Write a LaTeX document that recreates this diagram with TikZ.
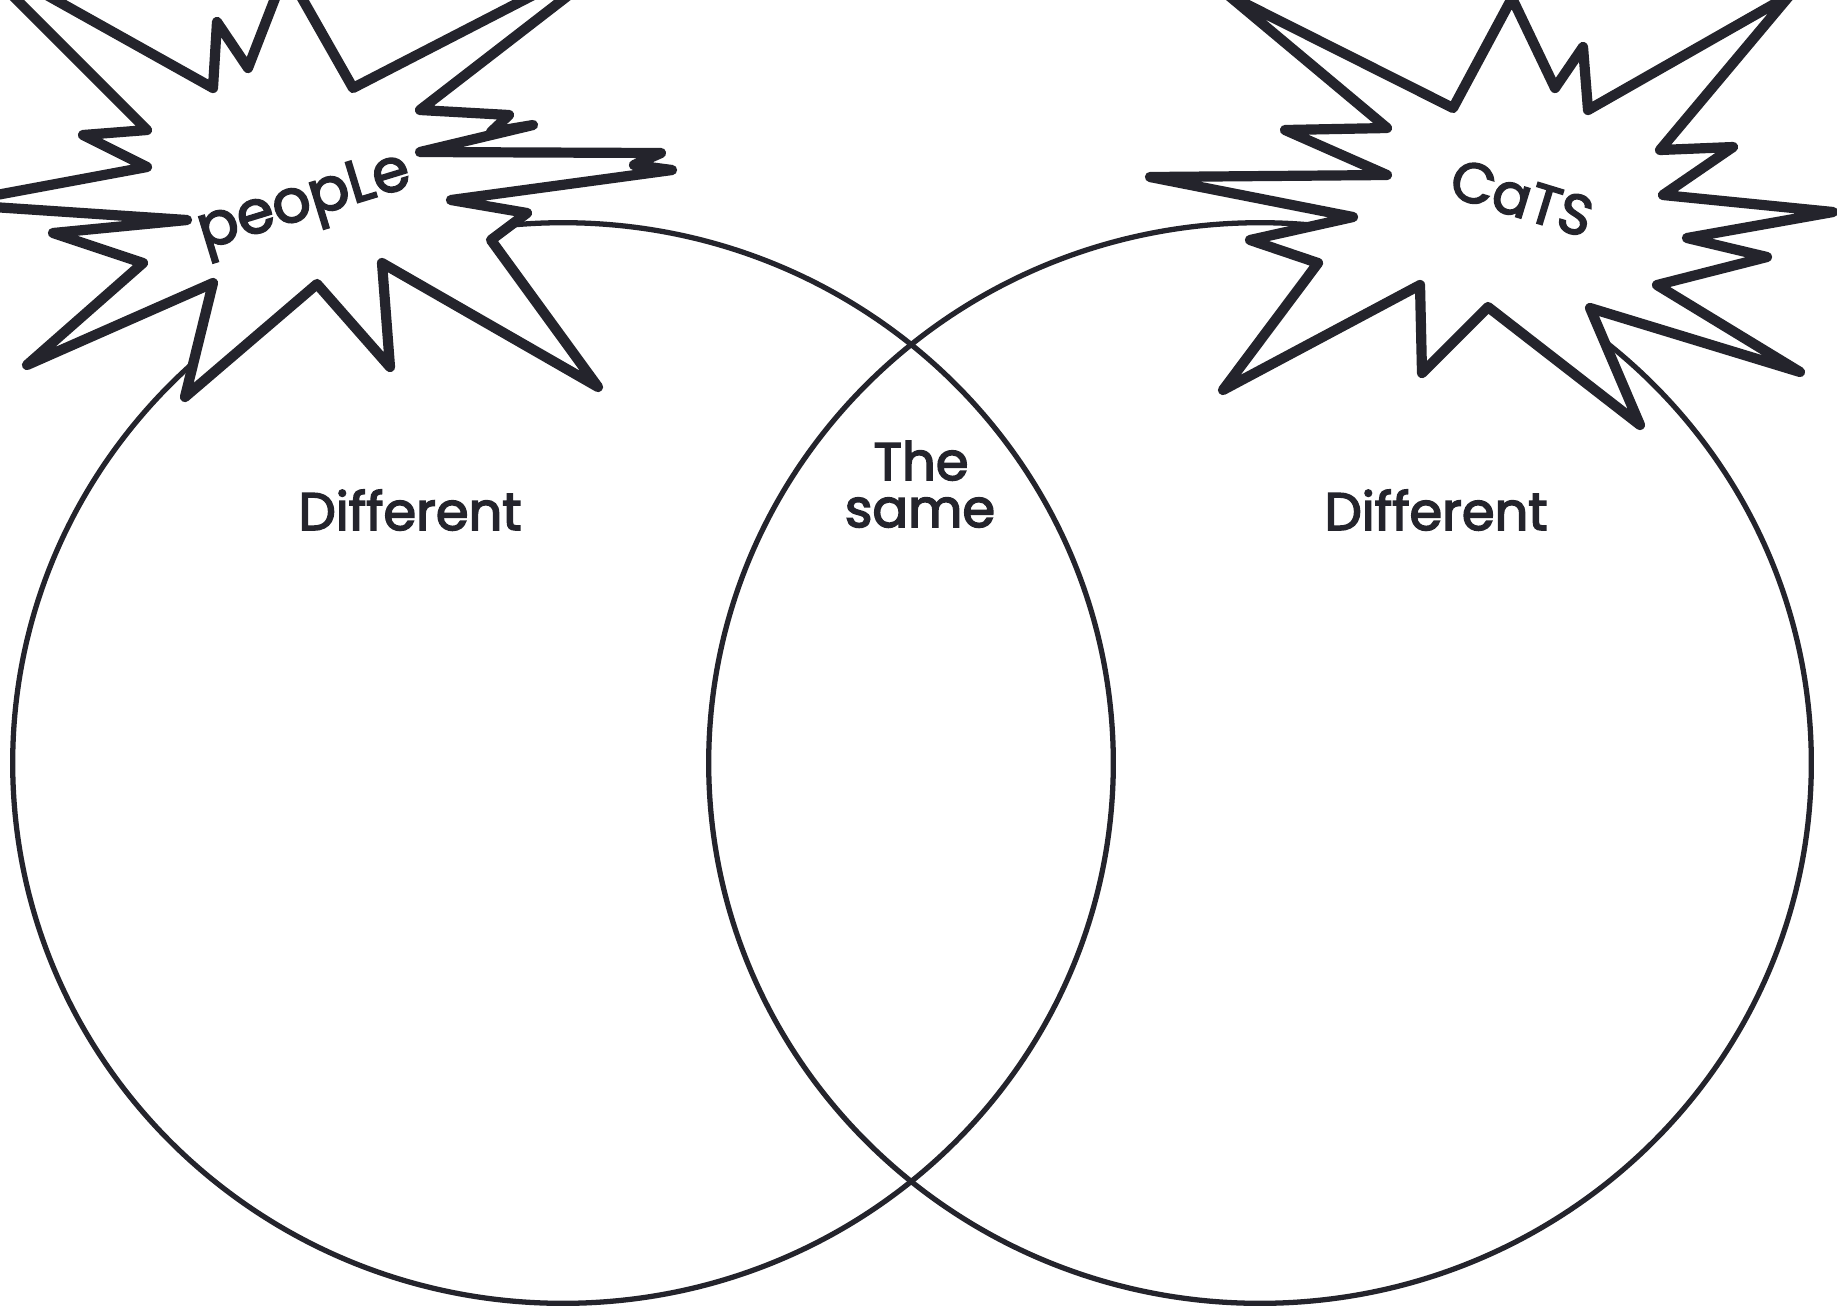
\documentclass[tikz,border=0pt]{standalone}
\usepackage{fontspec}
\setmainfont{Poppins}
\newfontfamily\medfont{Poppins}[FakeBold=3]
\definecolor{ink}{RGB}{36,36,44}
\begin{document}
\begin{tikzpicture}[x=0.01cm,y=-0.01cm,
  ring/.style={draw=ink, line width=1.5pt},
  burst/.style={draw=ink, fill=white, line width=2.9pt, line join=round},
  lbl/.style={text=ink, inner sep=0pt, font=\medfont\fontsize{15}{18}\selectfont},
  wordlbl/.style={text=ink, inner sep=0pt, font=\medfont\fontsize{17}{20}\selectfont}]
\useasboundingbox (0,0) rectangle (1837,1311);
\fill[white] (0,0) rectangle (1837,1311);
\begin{scope}
\clip (0,0) rectangle (1837,1311);
% Venn circles
\draw[ring] (563,763) ellipse [x radius=5.50cm, y radius=5.40cm];
\draw[ring] (1260,763) ellipse [x radius=5.51cm, y radius=5.40cm];
% left starburst
\draw[burst] (-32,-49) -- (213,88) -- (217,22) -- (248,68) -- (286,-30) -- (353,88)
  -- (640,-60) -- (420,110) -- (509,115) -- (491,132) -- (533,125) -- (420,152)
  -- (661,153) -- (634,165) -- (672,170) -- (451,200) -- (527,213) -- (491,240)
  -- (598,387) -- (382,263) -- (390,367) -- (317,284) -- (185,397) -- (213,283)
  -- (27,365) -- (143,263) -- (53,233) -- (187,220) -- (-52,204) -- (147,167)
  -- (83,135) -- (147,130) -- cycle;
% right starburst
\draw[burst] (1228,-5) -- (1453,108) -- (1512,-2) -- (1555,88) -- (1583,47)
  -- (1588,110) -- (1790,-5) -- (1660,150) -- (1733,147) -- (1663,195)
  -- (1833,212) -- (1687,238) -- (1767,257) -- (1657,285) -- (1800,372)
  -- (1590,308) -- (1640,425) -- (1488,307) -- (1422,373) -- (1420,285)
  -- (1223,390) -- (1318,263) -- (1250,240) -- (1353,217) -- (1150,177)
  -- (1387,175) -- (1285,130) -- (1387,128) -- cycle;
\end{scope}
% labels
\node[wordlbl, rotate=17] (people) at (305,205) {peopLe};
\node[wordlbl, rotate=-17, font=\medfont\fontsize{16}{19}\selectfont] (cats) at (1522,198) {CaTS};
\node[lbl, anchor=base] (diffL) at (410,530) {Different};
\node[lbl, anchor=base] (diffR) at (1436,530) {Different};
\node[lbl, anchor=base] (the) at (921,480) {The};
\node[lbl, anchor=base] (same) at (920,527) {same};
\end{tikzpicture}
\end{document}
